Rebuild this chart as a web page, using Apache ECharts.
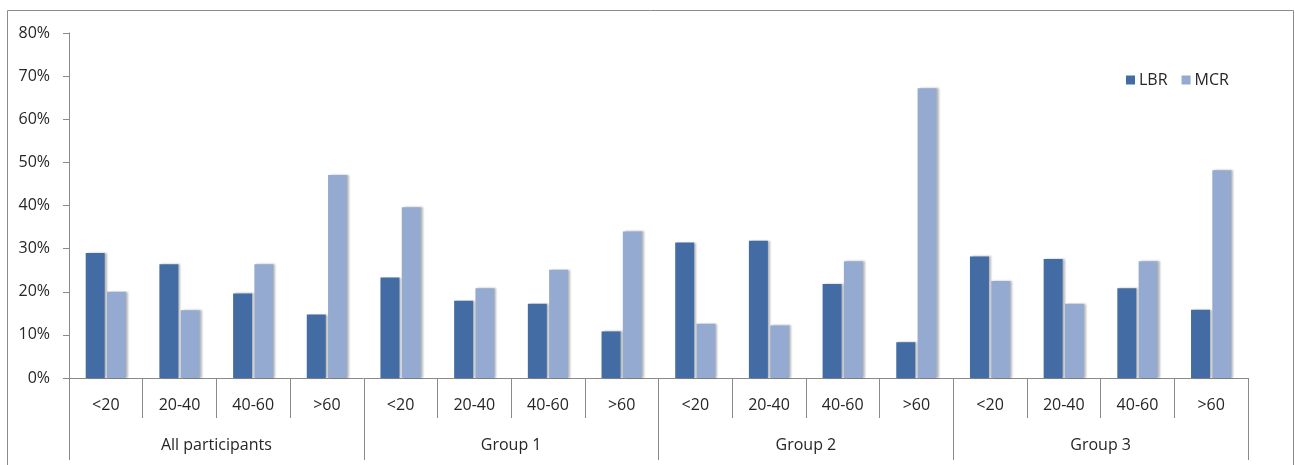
<!DOCTYPE html>
<html>
<head>
<meta charset="utf-8">
<style>
  html, body { margin: 0; padding: 0; background: #ffffff; }
  #chart { width: 1295px; height: 465px; }
</style>
<script src="https://cdn.jsdelivr.net/npm/echarts@6/dist/echarts.min.js"></script>
</head>
<body>
<div id="chart"></div>
<script>
// Age bands repeated for each population group
const ageBands = ['<20', '20-40', '40-60', '>60'];
const groups = ['All participants', 'Group 1', 'Group 2', 'Group 3'];

// Percentages per age band, in group order
const lbrValues = [29, 26.4, 19.6, 14.7,  23.3, 17.9, 17.2, 10.8,  31.4, 31.8, 21.8, 8.3,  28.2, 27.6, 20.8, 15.8];
const mcrValues = [20, 15.7, 26.4, 47.1,  39.6, 20.8, 25.1, 34.0,  12.6, 12.2, 27.1, 67.2,  22.5, 17.2, 27.1, 48.2];

const yTicks = { min: 0, max: 80, interval: 10 };

const categories = [];
groups.forEach(() => ageBands.forEach(b => categories.push(b)));

const FONT = 'Open Sans';
const TEXT = '#262626';
const AXIS = '#8a8a8a';
const FS = 16;

const barShadow = {
  shadowColor: 'rgba(0,0,0,0.28)',
  shadowBlur: 2,
  shadowOffsetX: 2,
  shadowOffsetY: 0
};

const chart = echarts.init(document.getElementById('chart'), null, { renderer: 'canvas' });

chart.setOption({
  animation: false,
  backgroundColor: '#ffffff',
  textStyle: { fontFamily: FONT },
  graphic: [{
    type: 'rect',
    shape: { x: 7.5, y: 10.5, width: 1286, height: 470 },
    style: { fill: 'none', stroke: '#8c8c8c', lineWidth: 1 },
    silent: true,
    z: -1
  }],
  legend: {
    left: 1121,
    top: 67,
    icon: 'rect',
    itemWidth: 9,
    itemHeight: 9,
    itemGap: 14,
    textStyle: { fontFamily: FONT, fontSize: FS, color: TEXT, padding: [0, 0, 0, -1] },
    data: ['LBR', 'MCR']
  },
  grid: { left: 69, right: 47, top: 33, bottom: 87, containLabel: false },
  xAxis: [{
    type: 'category',
    data: categories,
    position: 'bottom',
    axisLine: { show: true, lineStyle: { color: AXIS, width: 1 } },
    axisTick: { show: true, interval: 0, length: 40, alignWithLabel: false, lineStyle: { color: AXIS } },
    axisLabel: { interval: 0, margin: 19, fontFamily: FONT, fontSize: FS, color: TEXT },
    splitLine: { show: false }
  }, {
    type: 'category',
    data: groups,
    position: 'bottom',
    axisLine: { show: false },
    axisTick: { show: true, interval: 0, length: 82, alignWithLabel: false, lineStyle: { color: AXIS } },
    axisLabel: { interval: 0, margin: 59, fontFamily: FONT, fontSize: FS, color: TEXT },
    splitLine: { show: false }
  }],
  yAxis: {
    type: 'value',
    min: yTicks.min,
    max: yTicks.max,
    interval: yTicks.interval,
    axisLine: { show: true, lineStyle: { color: AXIS, width: 1 } },
    axisTick: { show: true, length: 6, lineStyle: { color: AXIS } },
    axisLabel: { formatter: '{value}%', margin: 19, fontFamily: FONT, fontSize: FS, color: TEXT },
    splitLine: { show: false }
  },
  series: [{
    name: 'LBR',
    type: 'bar',
    xAxisIndex: 0,
    data: lbrValues,
    barWidth: 19,
    barGap: '12%',
    itemStyle: Object.assign({ color: '#436ca5' }, barShadow)
  }, {
    name: 'MCR',
    type: 'bar',
    xAxisIndex: 0,
    data: mcrValues,
    barWidth: 19,
    barGap: '12%',
    itemStyle: Object.assign({ color: '#95aad1' }, barShadow)
  }]
});
</script>
</body>
</html>
